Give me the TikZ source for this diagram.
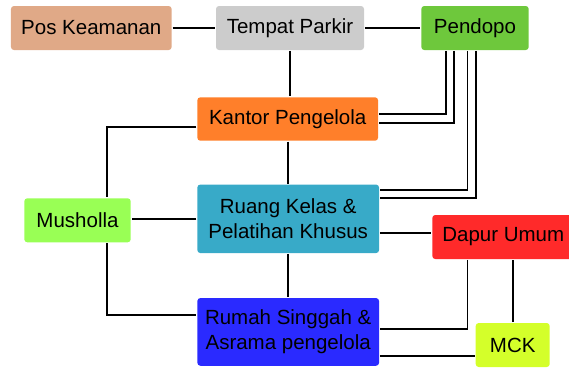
\documentclass[tikz,border=0pt]{standalone}
\usepackage{fontspec}
\setmainfont{Liberation Sans}
\definecolor{poscol}{RGB}{224,169,135}
\definecolor{parkircol}{RGB}{204,204,204}
\definecolor{pendopocol}{RGB}{110,200,60}
\definecolor{kantorcol}{RGB}{255,127,42}
\definecolor{ruangcol}{RGB}{56,170,200}
\definecolor{musholcol}{RGB}{153,255,85}
\definecolor{dapurcol}{RGB}{255,42,42}
\definecolor{rumahcol}{RGB}{42,42,255}
\definecolor{mckcol}{RGB}{212,255,42}
\begin{document}
\begin{tikzpicture}[x=1pt, y=-1pt, line width=1.8pt,
        every node/.style={rounded corners=3pt, inner sep=0pt, align=center, font=\fontsize{20.5}{25}\selectfont}]
            \useasboundingbox (0,0) rectangle (569,368);
            \node[fill=poscol, minimum width=160.7pt, minimum height=44pt] (pos) at (91.3,28) {Pos Keamanan};
            \node[fill=parkircol, minimum width=148pt, minimum height=44pt] (parkir) at (290,28) {Tempat Parkir};
            \node[fill=pendopocol, minimum width=107.4pt, minimum height=44pt] (pendopo) at (475,28) {Pendopo};
            \node[fill=kantorcol, minimum width=180.7pt, minimum height=43.4pt] (kantor) at (287.7,119) {Kantor Pengelola};
            \node[fill=ruangcol, minimum width=181.7pt, minimum height=68.5pt] (ruang) at (288.2,218.8) {Ruang Kelas \&\\Pelatihan Khusus};
            \node[fill=musholcol, minimum width=106.4pt, minimum height=44pt] (musholla) at (77.5,220.3) {Musholla};
            \node[fill=dapurcol, minimum width=142pt, minimum height=44pt] (dapur) at (503.3,237) {Dapur Umum};
            \node[fill=rumahcol, minimum width=181.7pt, minimum height=67.7pt] (rumah) at (288.2,331.9) {Rumah Singgah \&\\Asrama pengelola};
            \node[fill=mckcol, minimum width=74pt, minimum height=44pt] (mck) at (512.7,345) {MCK};

            \draw (pos) -- (parkir);
            \draw (parkir) -- (pendopo);
            \draw (parkir.south) -- (parkir.south |- kantor.north);
            \draw (kantor.south) -- (kantor.south |- ruang.north);
            \draw (ruang.south) -- (ruang.south |- rumah.north);
            \draw ([xshift=25.4pt]pendopo.south west) |- ([yshift=4.7pt]kantor.east);
            \draw ([xshift=33.4pt]pendopo.south west) |- ([yshift=-3.7pt]kantor.east);
            \draw ([xshift=47pt]pendopo.south west) |- ([yshift=29.1pt]ruang.east);
            \draw ([xshift=55.4pt]pendopo.south west) |- ([yshift=20.8pt]ruang.east);
            \draw ([yshift=-8.3pt]kantor.west) -| ([xshift=29.8pt]musholla.north);
            \draw (ruang.west) -- (ruang.west -| musholla.east);
            \draw ([yshift=-14.2pt]ruang.east) -- ([yshift=-14.2pt]ruang.east -| dapur.west);
            \draw ([xshift=29.8pt]musholla.south) |- ([yshift=17.2pt]rumah.west);
            \draw ([xshift=36pt]dapur.south west) |- ([yshift=3.2pt]rumah.east);
            \draw (mck.north) -- (mck.north |- dapur.south);
            \draw ([yshift=-23.8pt]rumah.east) -- ([yshift=-23.8pt]rumah.east -| mck.west);
        \end{tikzpicture}
\end{document}
